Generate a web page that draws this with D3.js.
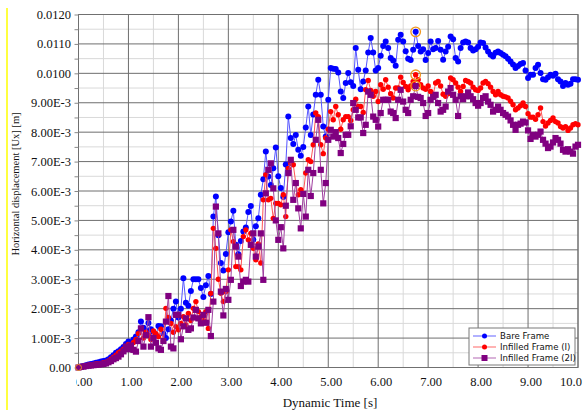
<!DOCTYPE html>
<html lang="en">
  <head>
    <meta charset="UTF-8" />
    <title>Horizontal displacement</title>
    <script src="https://d3js.org/d3.v7.min.js"></script>
    <style>
      body { margin: 0; background: #fff; }
    </style>
  </head>
  <body>
    <div id="my_dataviz"></div>
    <script>
      // sampling step of the dynamic analysis [s]
      const dt = 0.05

      // displacement values in units of 1e-3 m, one per step from 0.00 s to 10.00 s
      const bareFrame = [
        0.00, 0.03, 0.05, 0.08, 0.10, 0.12, 0.14, 0.16, 0.18, 0.20,
        0.22, 0.24, 0.28, 0.35, 0.42, 0.50, 0.55, 0.62, 0.70, 0.80,
        0.88, 0.80, 0.95, 1.05, 1.20, 1.56, 1.35, 1.25, 1.51, 1.30,
        1.20, 1.10, 1.41, 1.40, 1.15, 1.00, 1.30, 1.60, 2.00, 2.24,
        1.70, 2.00, 3.03, 2.20, 2.10, 2.60, 3.00, 3.00, 3.00, 2.70,
        2.40, 2.80, 3.11, 2.50, 5.13, 5.81, 4.50, 3.55, 3.30, 3.86,
        4.60, 4.96, 5.33, 4.17, 3.85, 4.30, 4.62, 4.76, 5.29, 5.49,
        4.35, 4.80, 5.07, 5.87, 6.40, 7.34, 6.49, 6.20, 6.77, 7.48,
        6.50, 6.10, 5.80, 6.90, 8.53, 7.80, 7.60, 7.90, 7.40, 7.20,
        7.50, 8.16, 8.87, 7.90, 8.60, 9.27, 9.78, 9.27, 8.19, 7.85,
        9.10, 10.18, 10.16, 10.15, 10.03, 9.38, 9.16, 9.67, 10.01, 9.70,
        9.57, 10.86, 10.12, 9.46, 9.72, 10.10, 10.71, 11.20, 10.71, 10.10,
        10.18, 10.60, 10.93, 11.08, 10.86, 10.52, 10.44, 10.26, 11.14, 11.31,
        11.08, 10.75, 10.50, 10.45, 10.80, 11.41, 10.93, 10.74, 10.82, 10.45,
        10.69, 11.08, 10.82, 10.86, 11.10, 10.80, 10.46, 10.74, 10.90, 11.25,
        11.16, 10.52, 10.40, 10.86, 11.05, 11.08, 11.05, 10.86, 10.78, 10.82,
        10.90, 11.05, 11.03, 10.88, 10.74, 10.63, 10.57, 10.70, 10.74, 10.69,
        10.63, 10.58, 10.50, 10.40, 10.30, 10.18, 10.25, 10.32, 10.35, 10.10,
        9.84, 9.95, 9.95, 10.18, 10.29, 10.01, 9.80, 9.78, 9.87, 9.95,
        9.92, 9.99, 9.80, 9.72, 9.57, 9.67, 9.61, 9.65, 9.80, 9.80,
        9.78
      ]
      const infilledFrame1 = [
        0.00, 0.02, 0.04, 0.06, 0.08, 0.09, 0.10, 0.12, 0.13, 0.14,
        0.16, 0.18, 0.22, 0.28, 0.35, 0.42, 0.50, 0.55, 0.62, 0.70,
        0.78, 0.72, 0.85, 0.95, 1.16, 1.30, 1.00, 1.20, 1.11, 0.95,
        1.24, 1.15, 1.05, 1.30, 0.90, 2.01, 1.70, 1.50, 1.20, 1.39,
        1.28, 1.50, 1.73, 1.45, 1.84, 1.60, 2.01, 2.24, 1.90, 1.73,
        1.62, 1.90, 1.33, 2.52, 4.73, 4.05, 3.00, 2.52, 2.24, 2.58,
        3.32, 4.68, 4.28, 3.43, 3.43, 3.32, 4.45, 4.68, 4.34, 4.56,
        4.05, 3.66, 4.20, 3.55, 5.70, 6.55, 5.70, 5.75, 5.07, 5.58,
        5.58, 5.53, 5.87, 5.13, 6.77, 6.94, 6.89, 6.27, 5.87, 6.04,
        5.92, 6.61, 7.06, 7.00, 7.57, 8.65, 8.53, 7.57, 7.27, 7.80,
        8.10, 8.70, 8.42, 8.87, 8.59, 8.10, 8.42, 8.53, 8.53, 8.40,
        8.76, 9.12, 8.87, 8.87, 8.67, 9.44, 9.76, 9.42, 9.22, 9.38,
        9.04, 9.61, 9.46, 9.78, 9.53, 9.31, 9.16, 9.50, 9.50, 9.87,
        9.69, 9.55, 9.44, 9.57, 9.72, 9.95, 9.78, 9.61, 9.50, 9.46,
        9.57, 9.38, 9.27, 9.67, 9.72, 9.57, 9.29, 9.22, 9.31, 9.84,
        9.78, 9.67, 9.53, 9.38, 9.55, 9.76, 9.72, 9.67, 9.53, 9.44,
        9.42, 9.50, 9.67, 9.72, 9.65, 9.53, 9.38, 9.27, 9.38, 9.27,
        9.22, 9.20, 9.16, 9.05, 8.93, 8.76, 8.82, 8.90, 8.99, 8.87,
        8.63, 8.51, 8.51, 8.44, 8.59, 8.82, 8.36, 8.21, 8.31, 8.40,
        8.48, 8.36, 8.31, 8.19, 8.14, 8.19, 8.06, 8.14, 8.25, 8.29,
        8.25
      ]
      const infilledFrame2 = [
        0.00, 0.02, 0.03, 0.05, 0.06, 0.07, 0.08, 0.09, 0.10, 0.11,
        0.12, 0.14, 0.18, 0.22, 0.28, 0.32, 0.37, 0.45, 0.55, 0.71,
        0.62, 0.75, 0.60, 0.54, 0.90, 1.33, 0.71, 1.10, 1.71, 0.71,
        1.00, 0.84, 0.65, 0.60, 0.90, 1.56, 2.43, 0.71, 0.65, 1.79,
        1.79, 0.96, 1.40, 1.67, 1.28, 1.33, 1.70, 1.96, 1.67, 1.50,
        1.79, 1.52, 1.96, 1.07, 2.24, 5.47, 4.56, 2.58, 1.77, 2.67,
        2.30, 2.98, 4.68, 4.11, 3.77, 2.77, 2.92, 2.98, 2.92, 4.17,
        4.56, 3.77, 4.11, 4.56, 2.98, 5.92, 6.72, 6.94, 6.09, 5.00,
        4.34, 4.77, 4.05, 5.50, 6.61, 7.06, 5.70, 6.27, 5.41, 4.73,
        5.90, 5.13, 6.72, 5.83, 6.61, 7.74, 8.42, 6.72, 5.58, 6.27,
        7.74, 8.08, 7.85, 8.00, 7.80, 7.29, 7.60, 7.91, 7.91, 8.20,
        8.99, 8.76, 8.50, 8.50, 7.97, 8.25, 9.38, 9.27, 8.53, 8.42,
        8.19, 8.65, 9.10, 9.10, 9.10, 8.70, 8.65, 8.48, 9.10, 9.44,
        9.04, 8.76, 8.65, 9.10, 9.22, 9.57, 9.20, 9.16, 8.99, 8.55,
        8.65, 9.10, 9.20, 9.27, 8.99, 8.70, 8.76, 8.87, 9.38, 9.50,
        9.27, 9.10, 8.55, 9.22, 9.12, 9.22, 9.35, 9.22, 9.12, 8.99,
        8.90, 8.99, 9.16, 9.22, 9.04, 8.93, 8.70, 8.76, 8.87, 8.76,
        8.65, 8.59, 8.53, 8.40, 8.25, 8.08, 8.25, 8.29, 8.36, 8.33,
        8.06, 7.77, 7.91, 7.85, 7.91, 8.02, 7.74, 7.61, 7.46, 7.51,
        7.65, 7.80, 7.74, 7.61, 7.40, 7.34, 7.42, 7.34, 7.27, 7.51,
        7.57
      ]

      const seriesNames = ['Bare Frame', 'Infilled Frame (I)', 'Infilled Frame (2I)']
      const yTickValues = [0, 1, 2, 3, 4, 5, 6, 7, 8, 9, 10, 11, 12]
      const yTickLabels = ['0.00', '1.00E-3', '2.00E-3', '3.00E-3', '4.00E-3', '5.00E-3',
        '6.00E-3', '7.00E-3', '8.00E-3', '9.00E-3', '0.0100', '0.0110', '0.0120']
      const xTickValues = [0, 1, 2, 3, 4, 5, 6, 7, 8, 9, 10]
      const xTickLabels = ['0.00', '1.00', '2.00', '3.00', '4.00', '5.00',
        '6.00', '7.00', '8.00', '9.00', '10.0']
      // time of the highlighted (circled) step
      const markedTime = 6.75

      const W = 583, H = 412
      const margin = { top: 14.5, right: 5, bottom: 44.5, left: 78.5 }
      const width = W - margin.left - margin.right
      const height = H - margin.top - margin.bottom

      const root = d3.select('#my_dataviz').append('svg')
        .attr('width', W).attr('height', H)

      // yellow side rule
      root.append('line')
        .attr('x1', 7).attr('x2', 7).attr('y1', 8).attr('y2', 410)
        .attr('stroke', '#ffff00').attr('stroke-width', 1.5)

      const svg = root.append('g')
        .attr('transform', `translate(${margin.left}, ${margin.top})`)

      const x = d3.scaleLinear().domain([0, 10]).range([0, width])
      const y = d3.scaleLinear().domain([0, 12]).range([height, 0])

      // minor grid
      const minorX = d3.range(0.5, 10, 1)
      const minorY = d3.range(0.5, 12, 1)
      svg.append('g').selectAll('line').data(minorX).join('line')
        .attr('x1', d => x(d)).attr('x2', d => x(d)).attr('y1', 0).attr('y2', height)
        .attr('stroke', '#d9d9d9')
      svg.append('g').selectAll('line').data(minorY).join('line')
        .attr('y1', d => y(d)).attr('y2', d => y(d)).attr('x1', 0).attr('x2', width)
        .attr('stroke', '#d9d9d9')
      // major grid
      svg.append('g').selectAll('line').data(xTickValues).join('line')
        .attr('x1', d => x(d)).attr('x2', d => x(d)).attr('y1', 0).attr('y2', height)
        .attr('stroke', '#6e6e6e')
      svg.append('g').selectAll('line').data(yTickValues).join('line')
        .attr('y1', d => y(d)).attr('y2', d => y(d)).attr('x1', 0).attr('x2', width)
        .attr('stroke', '#6e6e6e')
      svg.append('rect')
        .attr('width', width).attr('height', height)
        .attr('fill', 'none').attr('stroke', '#707070')

      // Y axis
      const yAxis = svg.append('g')
        .call(d3.axisLeft(y)
          .tickValues(d3.range(0, 12.01, 0.5))
          .tickSize(4)
          .tickFormat(d => {
            const i = yTickValues.indexOf(d)
            return i >= 0 ? yTickLabels[i] : ''
          }))
      yAxis.select('.domain').remove()
      yAxis.selectAll('.tick line').attr('stroke', '#888')
      yAxis.selectAll('.tick text')
        .attr('x', -7.5)
        .attr('font-family', '"Liberation Serif", serif')
        .attr('font-size', '12.5px').attr('fill', '#111')

      // X axis (first label is cut by the plot's left edge, as in the original)
      root.append('clipPath').attr('id', 'xclip')
        .append('rect').attr('x', -2.5).attr('y', 0).attr('width', width + 20).attr('height', 40)
      const xAxis = svg.append('g')
        .attr('transform', `translate(0, ${height})`)
        .attr('clip-path', 'url(#xclip)')
        .call(d3.axisBottom(x)
          .tickValues(xTickValues)
          .tickSize(0)
          .tickFormat((d, i) => xTickLabels[i]))
      xAxis.select('.domain').remove()
      xAxis.selectAll('.tick text')
        .attr('x', (d, i) => i === xTickValues.length - 1 ? -7.5 : 2.5)
        .attr('y', 10)
        .attr('font-family', '"Liberation Serif", serif')
        .attr('font-size', '12.5px').attr('fill', '#111')

      // axis titles
      root.append('text')
        .attr('x', 330).attr('y', 407)
        .attr('text-anchor', 'middle')
        .attr('font-family', '"Liberation Serif", serif')
        .attr('font-size', '13px').attr('fill', '#111')
        .text('Dynamic Time [s]')
      root.append('text')
        .attr('transform', 'translate(19, 184) rotate(-90)')
        .attr('text-anchor', 'middle')
        .attr('font-family', '"Liberation Serif", serif')
        .attr('font-size', '10.5px').attr('fill', '#111')
        .text('Horizontal displacement [Ux] [m]')

      // series
      const series = [
        { name: seriesNames[0], values: bareFrame, color: '#0000ff', line: '#5555ff', shape: 'circle', size: 3 },
        { name: seriesNames[1], values: infilledFrame1, color: '#ff0000', line: '#ff5555', shape: 'circle', size: 2.7 },
        { name: seriesNames[2], values: infilledFrame2, color: '#800080', line: '#a040a0', shape: 'square', size: 6.2 }
      ]
      series.forEach(s => {
        s.points = s.values.map((v, i) => ({ t: +(i * dt).toFixed(2), v }))
      })

      const line = d3.line().x(d => x(d.t)).y(d => y(d.v))

      series.forEach(s => {
        const g = svg.append('g')
        g.append('path')
          .attr('d', line(s.points))
          .attr('fill', 'none')
          .attr('stroke', s.line).attr('stroke-width', 1)
        if (s.shape === 'circle') {
          g.selectAll('circle').data(s.points).join('circle')
            .attr('cx', d => x(d.t)).attr('cy', d => y(d.v))
            .attr('r', s.size)
            .attr('fill', s.color)
        } else {
          g.selectAll('rect').data(s.points).join('rect')
            .attr('x', d => x(d.t) - s.size / 2).attr('y', d => y(d.v) - s.size / 2)
            .attr('width', s.size).attr('height', s.size)
            .attr('fill', s.color)
        }
      })

      // highlighted step
      series.forEach(s => {
        const p = s.points.find(d => Math.abs(d.t - markedTime) < 1e-6)
        svg.append('circle')
          .attr('cx', x(p.t)).attr('cy', y(p.v)).attr('r', 4.8)
          .attr('fill', 'none').attr('stroke', '#f0961e').attr('stroke-width', 1.3)
      })
      // origin marker
      svg.append('circle')
        .attr('cx', x(0)).attr('cy', y(0)).attr('r', 3)
        .attr('fill', 'none').attr('stroke', '#f0961e').attr('stroke-width', 1)

      // legend
      const legend = root.append('g').attr('transform', 'translate(469, 328)')
      legend.append('rect')
        .attr('width', 106).attr('height', 37)
        .attr('fill', '#fff').attr('stroke', '#7a7a7a')
      const legendLines = ['#7c7cff', '#ff8080', '#c080c0']
      series.forEach((s, i) => {
        const ly = 8 + i * 11
        legend.append('line')
          .attr('x1', 4).attr('x2', 27).attr('y1', ly).attr('y2', ly)
          .attr('stroke', legendLines[i]).attr('stroke-width', 1.2)
        if (s.shape === 'circle') {
          legend.append('circle').attr('cx', 15.5).attr('cy', ly).attr('r', 2.5).attr('fill', s.color)
        } else {
          legend.append('rect').attr('x', 12.5).attr('y', ly - 3).attr('width', 6).attr('height', 6).attr('fill', s.color)
        }
        legend.append('text')
          .attr('x', 31).attr('y', ly + 3.3)
          .attr('font-family', '"DejaVu Sans", sans-serif')
          .attr('font-size', '8.6px').attr('fill', '#111')
          .text(s.name)
      })
    </script>
  </body>
</html>
